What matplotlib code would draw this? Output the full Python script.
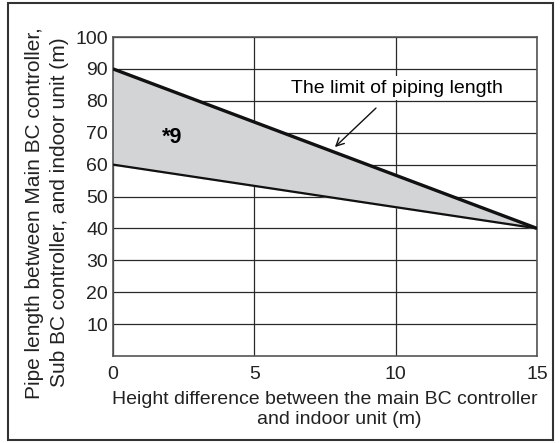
import matplotlib.pyplot as plt
from matplotlib.patches import Rectangle

plt.rcParams['font.family'] = ['Liberation Sans', 'DejaVu Sans']

height_diff = [0, 15]
limit_upper = [90, 40]
limit_lower = [60, 40]
x_ticks = [0, 5, 10, 15]
y_ticks = [10, 20, 30, 40, 50, 60, 70, 80, 90, 100]
x_label = ['Height difference between the main BC controller', 'and indoor unit (m)']
y_label = ['Pipe length between Main BC controller,', 'Sub BC controller, and indoor unit (m)']


def main():
    fig = plt.figure(figsize=(5.6, 4.43), dpi=100)
    ax = fig.add_axes([113 / 560, 1 - 356 / 443, 424 / 560, 319 / 443])

    ax.fill_between(height_diff, limit_lower, limit_upper, color='#d3d4d6', zorder=2)
    ax.plot(height_diff, limit_upper, color='#111111', lw=2.4, zorder=3, solid_capstyle='butt')
    ax.plot(height_diff, limit_lower, color='#111111', lw=1.6, zorder=3, solid_capstyle='butt')

    ax.set_xlim(0, 15)
    ax.set_ylim(0, 100)
    ax.set_xticks(x_ticks)
    ax.set_yticks(y_ticks)
    ax.tick_params(length=0, labelsize=14, colors='#222222')
    ax.tick_params(axis='x', pad=7.5)
    ax.tick_params(axis='y', pad=3.5)
    ax.grid(True, color='#2a2a2a', lw=0.9, zorder=1)
    ax.set_axisbelow(True)
    for s in ax.spines.values():
        s.set_color('#555555')
        s.set_linewidth(1.2)

    ax.text(2.1, 68.5, '*9', fontsize=15.5, fontweight='bold', ha='center', va='center', zorder=4)
    ax.annotate('The limit of piping length', xy=(7.85, 65.5), xytext=(10.05, 84.0),
                fontsize=14, ha='center', va='center', zorder=5,
                bbox=dict(boxstyle='square,pad=0.2', fc='white', ec='none'),
                arrowprops=dict(arrowstyle='->', color='#111111', lw=1.0,
                                shrinkA=8, shrinkB=0))

    fig.text(325 / 560, 1 - 399 / 443, x_label[0], ha='center', va='center',
             fontsize=14, color='#222222')
    fig.text(339 / 560, 1 - 420 / 443, x_label[1], ha='center', va='center',
             fontsize=14, color='#222222')
    fig.text(35 / 560, 1 - 213 / 443, y_label[0], ha='center', va='center',
             rotation=90, fontsize=15, color='#222222')
    fig.text(60 / 560, 1 - 212 / 443, y_label[1], ha='center', va='center',
             rotation=90, fontsize=15, color='#222222')

    fig.patches.append(Rectangle((8 / 560, 3 / 443), 545 / 560, 437 / 443,
                                 transform=fig.transFigure, fill=False,
                                 ec='#333333', lw=1.5))
    fig.savefig('out.png', dpi=100)


if __name__ == '__main__':
    main()
